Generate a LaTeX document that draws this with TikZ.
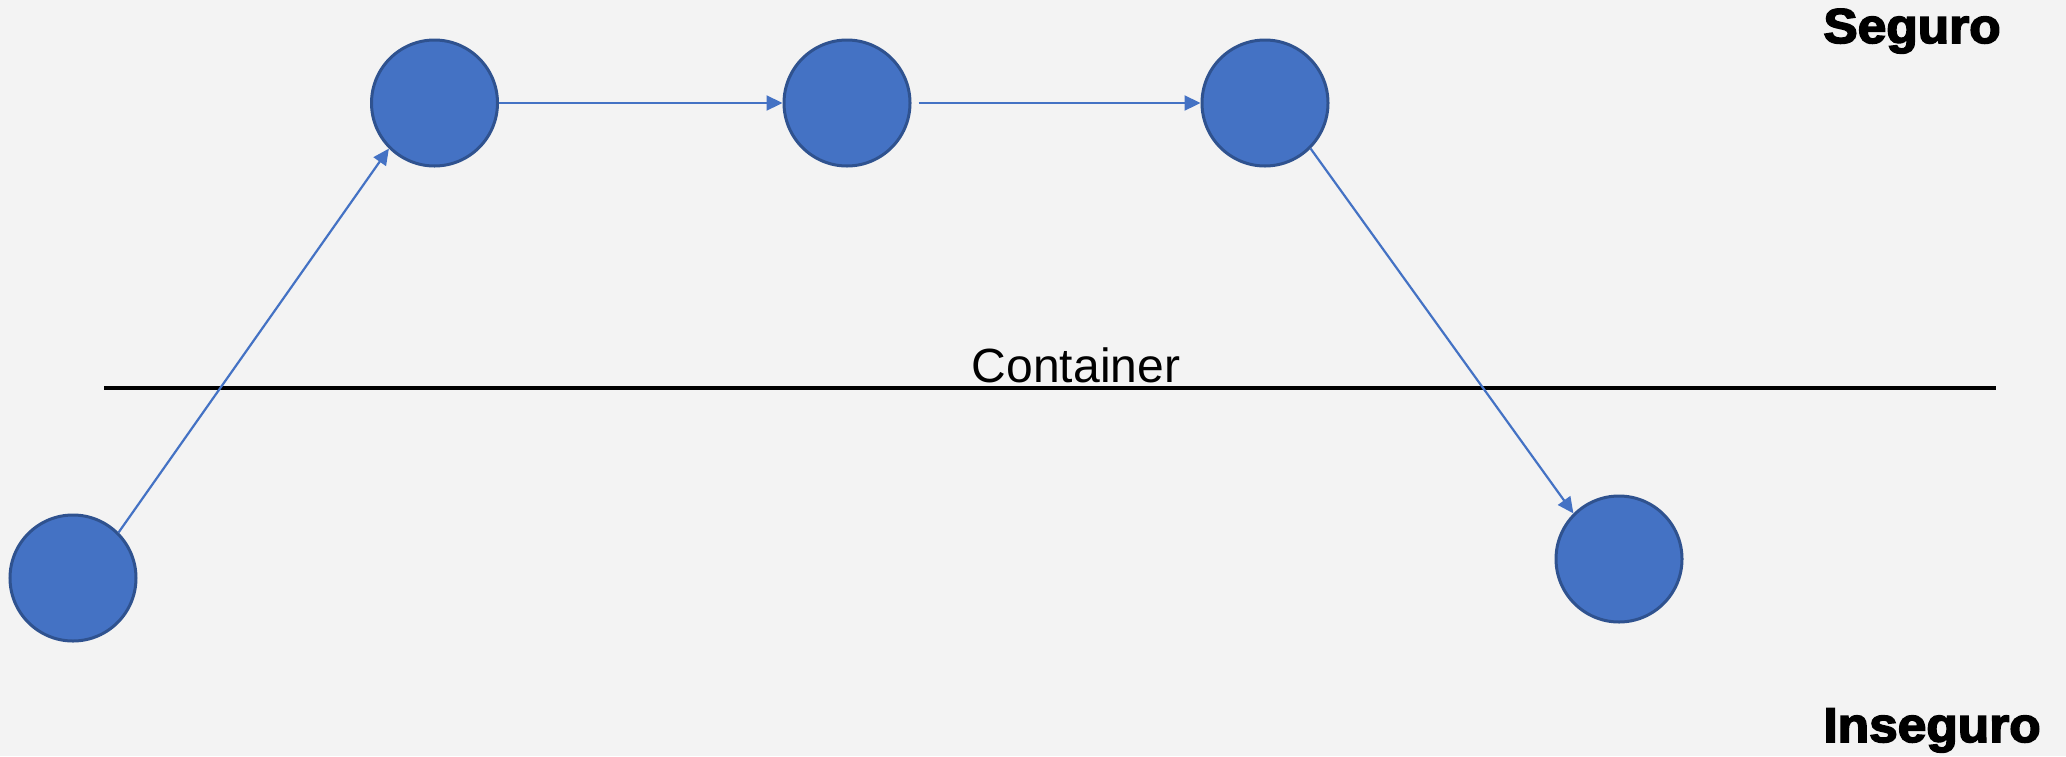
\documentclass[tikz,border=0pt]{standalone}
\usepackage{fontspec}
\setmainfont{Liberation Sans}
\newfontfamily\heavyfont[FakeBold=3.2]{Liberation Sans}
\usetikzlibrary{arrows.meta}
\definecolor{nodeblue}{HTML}{4472C4}
\definecolor{nodeedge}{HTML}{2F528F}
\definecolor{paper}{HTML}{F3F3F3}

\begin{document}
\begin{tikzpicture}[x=0.5pt,y=-0.5pt,
  state/.style={circle, fill=nodeblue, draw=nodeedge, line width=1.5pt,
                minimum size=63pt, inner sep=0pt},
  link/.style={draw=nodeblue, line width=1.1pt, -{Triangle[length=8pt,width=7.5pt]}},
  zone/.style={font=\heavyfont\bfseries\fontsize{24.5pt}{28pt}\selectfont,
               anchor=base west, inner sep=0pt},
  divider/.style={draw=black, line width=1.6pt}]
  % canvas
  \fill[paper] (0,0) rectangle (2066,756);
  \useasboundingbox (0,0) rectangle (2066,756);

  % zone labels
  \node[zone] (seguro) at (1823,43) {\scalebox{1.05}[1]{Seguro}};
  \node[zone] (inseguro) at (1823,742) {\scalebox{1.05}[1]{Inseguro}};

  % container boundary
  \coordinate (bl) at (104,388);
  \coordinate (br) at (1996,388);
  \draw[divider] (bl) -- (br);
  \node[anchor=base, inner sep=0pt, font=\fontsize{24pt}{28pt}\selectfont]
    (container) at (1076,382) {Container};

  % states
  \node[state] (s1) at (73,578) {};
  \node[state] (s2) at (434.5,103) {};
  \node[state] (s3) at (847,103) {};
  \node[state] (s4) at (1265,103) {};
  \node[state] (s5) at (1619,559) {};

  % transitions
  \draw[link] (s1.45) -- (s2.225);
  \draw[link] (s2.east) -- (s3.west);
  \draw[link, shorten <=3.5pt] (s3.east) -- (s4.west);
  \draw[link] (s4.315) -- (s5.135);
\end{tikzpicture}
\end{document}
